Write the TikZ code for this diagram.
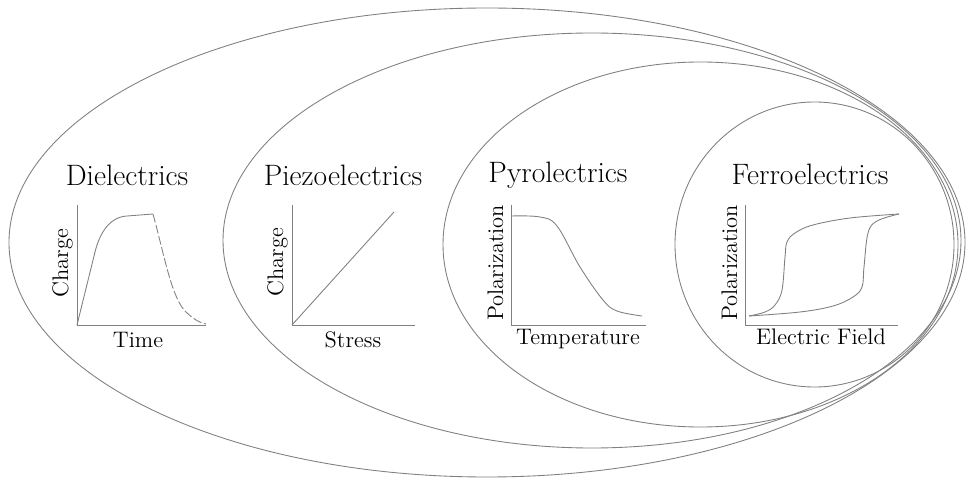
\documentclass[tikz,border=0pt]{standalone}
\usepackage{fontspec}
\begin{document}
\begin{tikzpicture}[x=0.02cm, y=-0.02cm,
  linea/.style={draw=black!50, line width=0.5pt},
  titolo/.style={anchor=base, font=\fontsize{16.8}{20}\selectfont},
  etich/.style={anchor=base, font=\fontsize{12.8}{15}\selectfont}]

\useasboundingbox (0,0) rectangle (966,479);

% ellissi
\draw[linea] (487,242.5) ellipse [x radius=478, y radius=234.5];
\draw[linea] (592,240.5) ellipse [x radius=369, y radius=207.5];
\draw[linea] (700.5,244.5) ellipse [x radius=257.5, y radius=182.5];
\draw[linea] (814.5,244.5) ellipse [x radius=139.5, y radius=142.5];

% dielettrici
\node[titolo] (diel) at (127,186) {Dielectrics};
\draw[linea] (77,205) -- (77,325) -- (206,325);
\draw[linea] (77,325) -- (95,252) .. controls (100,232) and (110,217) .. (127,216) -- (153,214);
\draw[linea, dash pattern=on 5pt off 1.5pt] (153,214) .. controls (165,258) and (172,300) .. (187,313) .. controls (195,320) and (200,323) .. (206,324);
\node[etich, rotate=90] (dielq) at (68,263) {Charge};
\node[etich] (dielt) at (138,347) {Time};

% piezoelettrici
\node[titolo] (piezo) at (343,186) {Piezoelectrics};
\draw[linea] (292,205) -- (292,325) -- (415,325);
\draw[linea] (292,325) -- (394,212);
\node[etich, rotate=90] (piezoq) at (283,262) {Charge};
\node[etich] (piezos) at (353,347) {Stress};

% piroelettrici
\node[titolo] (pyro) at (558,183) {Pyrolectrics};
\draw[linea] (511,205) -- (511,325) -- (646,325);
\draw[linea] plot[smooth, tension=0.6] coordinates {(511,216) (540,217) (557,226) (580,267) (603,300) (617,311) (642,316)};
\node[etich, rotate=90] (pyrop) at (503,263) {Polarization};
\node[etich] (pyrot) at (578,344) {Temperature};

% ferroelettrici
\node[titolo] (ferro) at (810,185) {Ferroelectrics};
\draw[linea] (745,205) -- (745,325) -- (898,325);
\draw[linea] plot[smooth, tension=0.6] coordinates {(749,316) (800,312) (833,306) (853,297) (862,287) (864,267) (868,233) (877,221) (899,214)};
\draw[linea] plot[smooth, tension=0.6] coordinates {(899,214) (850,218) (813,225) (795,233) (787,242) (785,257) (782,290) (775,305) (765,312) (749,316)};
\node[etich, rotate=90] (ferrop) at (737,263) {Polarization};
\node[etich] (ferroe) at (821,344) {Electric Field};

\end{tikzpicture}
\end{document}
